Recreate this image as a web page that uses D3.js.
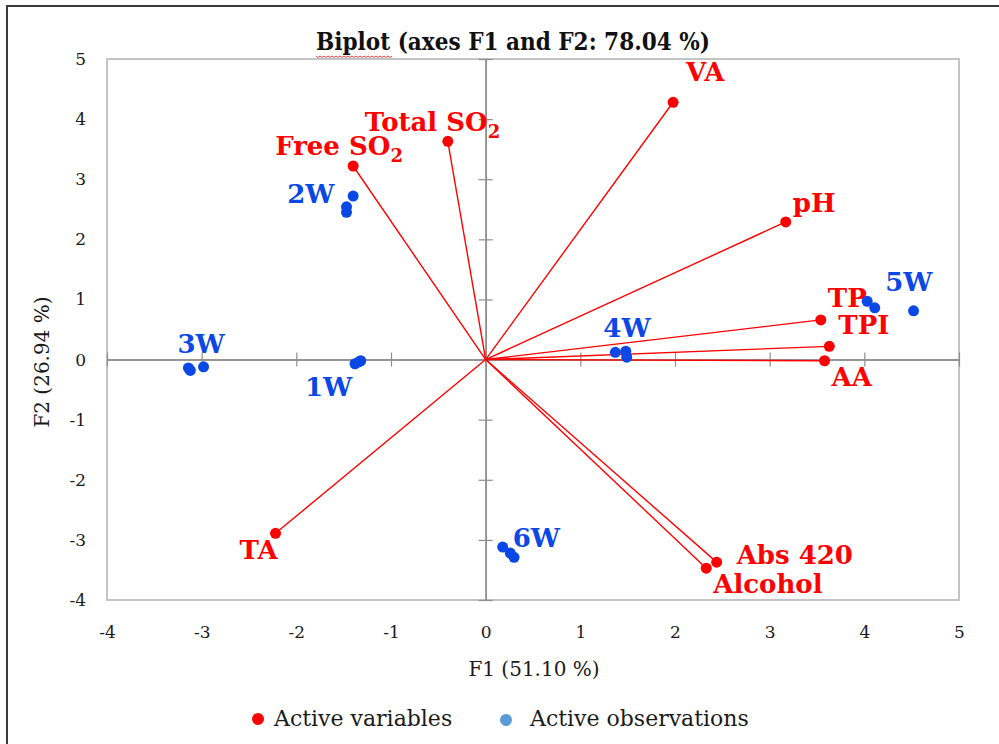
<!DOCTYPE html>
<html>
<head>
<meta charset="utf-8">
<script src="https://cdn.jsdelivr.net/npm/d3@7"></script>
<style>
  html, body { margin: 0; padding: 0; background: #fff; }
  svg { display: block; }
</style>
</head>
<body>
<svg id="chart" width="999" height="744"></svg>
<script>
// ---------------- data ----------------
const chartTitle = "Biplot (axes F1 and F2: 78.04 %)";
const xAxisTitle = "F1 (51.10 %)";
const yAxisTitle = "F2 (26.94 %)";
const xTicks = [-4, -3, -2, -1, 0, 1, 2, 3, 4, 5];
const yTicks = [-4, -3, -2, -1, 0, 1, 2, 3, 4, 5];

// active variables (name, subscript part, F1, F2)
const varNames = ["VA", "Total SO", "Free SO", "pH", "TP", "TPI", "AA", "TA", "Abs 420", "Alcohol"];
const varSubs  = ["",   "2",        "2",       "",   "",   "",    "",   "",   "",        ""];
const varF1 = [1.98, -0.40, -1.40, 3.17, 3.54, 3.63, 3.58, -2.22, 2.44, 2.33];
const varF2 = [4.28,  3.63,  3.22, 2.29, 0.66, 0.22, -0.02, -2.89, -3.37, -3.47];

// active observations
const obsNames = ["1W","1W","1W","2W","2W","2W","3W","3W","3W","4W","4W","4W","5W","5W","5W","6W","6W","6W"];
const obsF1 = [-1.38, -1.34, -1.32, -1.40, -1.47, -1.47, -3.14, -3.12, -2.98, 1.37, 1.48, 1.49, 4.03, 4.11, 4.52, 0.18, 0.26, 0.30];
const obsF2 = [-0.07, -0.04, -0.02,  2.72,  2.54,  2.45, -0.14, -0.18, -0.12, 0.12, 0.14, 0.04, 0.97, 0.86, 0.81, -3.12, -3.22, -3.29];

const legendLabels = ["Active variables", "Active observations"];

// label placement (pixel offsets from the marker) – layout only
const varLabelOffsets = [[13,-21],[-83,-10],[-78,-11],[7,-10],[7,-13],[9,-12],[7,25],[-36,26],[20,2],[7,25]];
const obsGroupLabels = ["1W","2W","3W","4W","5W","6W"];
const obsLabelOffsets = [[-50,32],[-66,7],[-11,-15],[-12,-15],[18,-10],[10,0]];

// ---------------- drawing ----------------
const RED = "#ff0000", BLUE = "#0a48e6", LEGBLUE = "#5b9bd5";
const SERIF = "'DejaVu Serif', 'Liberation Serif', serif";

const svg = d3.select("#chart");
const x = d3.scaleLinear().domain([-4, 5]).range([107, 959]);
const y = d3.scaleLinear().domain([-4, 5]).range([600, 59]);
const fmt = d => String(d);

// outer frame
svg.append("rect").attr("x", 7).attr("y", 6).attr("width", 1000).attr("height", 800)
  .attr("fill", "none").attr("stroke", "#3a3a3a").attr("stroke-width", 2);

// plot border
svg.append("rect").attr("x", x(-4)).attr("y", y(5))
  .attr("width", x(5) - x(-4)).attr("height", y(-4) - y(5))
  .attr("fill", "none").attr("stroke", "#c4c4c4").attr("stroke-width", 2);

// zero axes with centred ticks
function styleZero(g) {
  g.selectAll("path.domain").attr("stroke", "#8e8e8e").attr("stroke-width", 1.5);
  g.selectAll(".tick line").attr("stroke", "#8e8e8e").attr("stroke-width", 1.2);
  g.selectAll(".tick text").remove();
}
svg.append("g").attr("transform", `translate(0,${y(0)})`)
  .call(d3.axisBottom(x).tickValues(xTicks).tickSizeInner(7).tickSizeOuter(0)).call(styleZero);
svg.append("g").attr("transform", `translate(0,${y(0)})`)
  .call(d3.axisTop(x).tickValues(xTicks).tickSizeInner(7).tickSizeOuter(0)).call(styleZero);
svg.append("g").attr("transform", `translate(${x(0)},0)`)
  .call(d3.axisLeft(y).tickValues(yTicks).tickSizeInner(7).tickSizeOuter(0)).call(styleZero);
svg.append("g").attr("transform", `translate(${x(0)},0)`)
  .call(d3.axisRight(y).tickValues(yTicks).tickSizeInner(7).tickSizeOuter(0)).call(styleZero);

// tick labels
function styleLabels(g) {
  g.select("path.domain").remove();
  g.selectAll(".tick line").remove();
  g.selectAll(".tick text").attr("font-family", SERIF).attr("font-size", 17).attr("fill", "#1a1a1a");
}
svg.append("g").attr("transform", `translate(0,600)`)
  .call(d3.axisBottom(x).tickValues(xTicks).tickSize(0).tickPadding(26).tickFormat(fmt))
  .call(styleLabels);
svg.append("g").attr("transform", `translate(86,0)`)
  .call(d3.axisLeft(y).tickValues(yTicks).tickSize(0).tickPadding(0).tickFormat(fmt))
  .call(styleLabels);

// axis titles
svg.append("text").attr("x", 534).attr("y", 676).attr("text-anchor", "middle")
  .attr("font-family", SERIF).attr("font-size", 20).attr("fill", "#1a1a1a").text(xAxisTitle);
svg.append("text").attr("transform", "translate(49,362) rotate(-90)").attr("text-anchor", "middle")
  .attr("font-family", SERIF).attr("font-size", 20).attr("fill", "#1a1a1a").text(yAxisTitle);

// title
const title = svg.append("text").attr("x", 513).attr("y", 50).attr("text-anchor", "middle")
  .attr("font-family", "'DejaVu Serif Condensed', 'DejaVu Serif', serif").attr("font-weight", "bold")
  .attr("font-size", 24).attr("fill", "#111").text(chartTitle);
// spell-check squiggle under the first word
(function () {
  const node = title.node();
  const total = node.getComputedTextLength();
  const wordLen = node.getSubStringLength(0, 6);
  const x0 = 513 - total / 2, y0 = 56;
  let dPath = `M${x0},${y0}`;
  for (let t = x0, k = 0; t < x0 + wordLen; t += 2, k++) dPath += ` L${t + 2},${y0 + (k % 2 ? 0 : 1.5)}`;
  svg.append("path").attr("d", dPath).attr("fill", "none").attr("stroke", "#e04040").attr("stroke-width", 1);
})();

// variable vectors
const vars = varNames.map((n, i) => ({ name: n, sub: varSubs[i], f1: varF1[i], f2: varF2[i], off: varLabelOffsets[i] }));
svg.append("g").selectAll("line").data(vars).join("line")
  .attr("x1", x(0)).attr("y1", y(0)).attr("x2", d => x(d.f1)).attr("y2", d => y(d.f2))
  .attr("stroke", RED).attr("stroke-width", 1.4);
svg.append("g").selectAll("circle").data(vars).join("circle")
  .attr("cx", d => x(d.f1)).attr("cy", d => y(d.f2)).attr("r", 5.5).attr("fill", RED);
const vl = svg.append("g").selectAll("text").data(vars).join("text")
  .attr("x", d => x(d.f1) + d.off[0]).attr("y", d => y(d.f2) + d.off[1])
  .attr("font-family", SERIF).attr("font-weight", "bold").attr("font-size", 26).attr("fill", RED);
vl.append("tspan").text(d => d.name);
vl.filter(d => d.sub).append("tspan").attr("dy", 7).attr("font-size", 18).text(d => d.sub);

// observations
const obs = obsNames.map((n, i) => ({ name: n, f1: obsF1[i], f2: obsF2[i] }));
svg.append("g").selectAll("circle").data(obs).join("circle")
  .attr("cx", d => x(d.f1)).attr("cy", d => y(d.f2)).attr("r", 5.5).attr("fill", BLUE);
svg.append("g").selectAll("text").data(obsGroupLabels).join("text")
  .attr("x", (d, i) => { const p = obs.find(o => o.name === d); return x(p.f1) + obsLabelOffsets[i][0]; })
  .attr("y", (d, i) => { const p = obs.find(o => o.name === d); return y(p.f2) + obsLabelOffsets[i][1]; })
  .attr("font-family", SERIF).attr("font-weight", "bold").attr("font-size", 26).attr("fill", BLUE)
  .text(d => d);

// legend
const leg = svg.append("g");
leg.append("circle").attr("cx", 258).attr("cy", 719).attr("r", 6).attr("fill", RED);
leg.append("text").attr("x", 274).attr("y", 726).attr("font-family", SERIF).attr("font-size", 22)
  .attr("fill", "#1a1a1a").text(legendLabels[0]);
leg.append("circle").attr("cx", 506).attr("cy", 720).attr("r", 6).attr("fill", LEGBLUE);
leg.append("text").attr("x", 530).attr("y", 726).attr("font-family", SERIF).attr("font-size", 22)
  .attr("fill", "#1a1a1a").text(legendLabels[1]);
</script>
</body>
</html>
